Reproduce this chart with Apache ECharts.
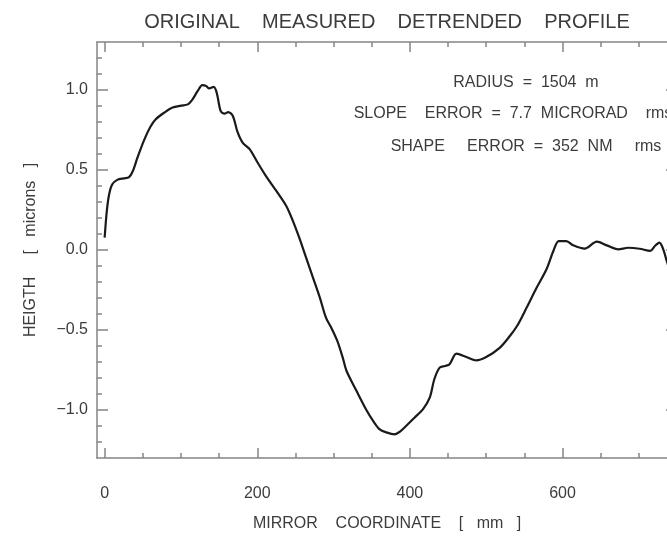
<!DOCTYPE html>
<html>
<head>
<meta charset="utf-8">
<script src="https://cdn.jsdelivr.net/npm/echarts@6/dist/echarts.min.js"></script>
<style>
html,body{margin:0;padding:0;background:#fff;}
#chart{width:667px;height:539px;}
</style>
</head>
<body>
<div id="chart"></div>
<script>
// ---- data ----
const xCoord = [0,3,6,10,17,25,32,37,43,52,60,67,78,89,100,109,115,122,128,133,137,143,147,152,157,162,168,174,181,190,200,211,225,238,246,255,264,273,282,290,297,305,312,317,330,343,352,360,369,380,387,395,406,417,426,432,439,446,452,461,474,487,500,518,531,541,553,566,579,588,595,605,614,629,645,658,673,686,701,715,721,727,732,736,740];
const height = [0.077,0.25,0.35,0.41,0.44,0.448,0.456,0.494,0.577,0.69,0.77,0.817,0.858,0.89,0.902,0.91,0.94,0.994,1.03,1.025,1.01,1.019,0.98,0.869,0.852,0.862,0.838,0.74,0.67,0.63,0.55,0.465,0.369,0.275,0.19,0.077,-0.048,-0.173,-0.298,-0.423,-0.486,-0.57,-0.673,-0.756,-0.88,-1.0,-1.07,-1.12,-1.14,-1.152,-1.135,-1.1,-1.048,-0.996,-0.923,-0.808,-0.735,-0.725,-0.714,-0.648,-0.669,-0.69,-0.669,-0.61,-0.5375,-0.47,-0.36,-0.236,-0.12,-0.006,0.056,0.056,0.029,0.008,0.052,0.029,0.004,0.014,0.008,-0.006,0.025,0.046,0.004,-0.06,-0.12];
const xMajorTicks = [0,200,400,600];
const xMinorTicks = [50,100,150,250,300,350,450,500,550,650,700];
const yMajorTicks = [-1.0,-0.5,0.0,0.5,1.0];
const yMinorTicks = [-1.2,-1.1,-0.9,-0.8,-0.7,-0.6,-0.4,-0.3,-0.2,-0.1,0.1,0.2,0.3,0.4,0.6,0.7,0.8,0.9,1.1,1.2];
const titleText = 'ORIGINAL    MEASURED    DETRENDED    PROFILE';
const xName = 'MIRROR    COORDINATE    [   mm   ]';
const yName = 'HEIGTH     [   microns   ]';
const notes = ['RADIUS  =  1504  m', 'SLOPE    ERROR  =  7.7  MICRORAD    rms', 'SHAPE     ERROR  =  352  NM     rms'];

// ---- chart ----
const FONT = 'Liberation Sans';
const TXT = '#3c3c3c';
const LINE = '#858585';
const chart = echarts.init(document.getElementById('chart'), null, {renderer: 'canvas'});
const fmt = v => (v < 0 ? '\u2212' : '') + Math.abs(v).toFixed(1);

function xAxisDef(pos, ticks, len, labels, showLine) {
  return {
    type: 'value', position: pos, min: -10, max: 750,
    axisLine: {show: showLine, onZero: false, lineStyle: {color: LINE, width: 1.5}},
    axisTick: {show: true, inside: true, length: len, customValues: ticks, lineStyle: {color: LINE, width: 1.5}},
    axisLabel: labels ? {show: true, customValues: ticks, margin: 28, fontFamily: FONT, fontSize: 16, color: TXT} : {show: false},
    splitLine: {show: false}
  };
}
function yAxisDef(pos, ticks, len, labels, showLine) {
  return {
    type: 'value', position: pos, min: -1.3, max: 1.3,
    axisLine: {show: showLine, onZero: false, lineStyle: {color: LINE, width: 1.5}},
    axisTick: {show: true, inside: true, length: len, customValues: ticks, lineStyle: {color: LINE, width: 1.5}},
    axisLabel: labels ? {show: true, customValues: ticks, margin: 9, fontFamily: FONT, fontSize: 16, color: TXT, formatter: fmt} : {show: false},
    splitLine: {show: false}
  };
}

const xAxes = [
  xAxisDef('bottom', xMajorTicks, 10, true, true),
  xAxisDef('bottom', xMinorTicks, 5, false, false),
  xAxisDef('top', xMajorTicks, 10, false, true),
  xAxisDef('top', xMinorTicks, 5, false, false)
];
Object.assign(xAxes[0], {name: xName, nameLocation: 'middle', nameGap: 58, nameTextStyle: {fontFamily: FONT, fontSize: 16, color: TXT}});
const yAxes = [
  yAxisDef('left', yMajorTicks, 11, true, true),
  yAxisDef('left', yMinorTicks, 5, false, false),
  yAxisDef('right', yMajorTicks, 11, false, true),
  yAxisDef('right', yMinorTicks, 5, false, false)
];
Object.assign(yAxes[0], {name: yName, nameLocation: 'middle', nameGap: 58, nameTextStyle: {fontFamily: FONT, fontSize: 16, color: TXT}});

const noteX = [526, 513, 526];
const noteY = [83, 114, 147];
chart.setOption({
  animation: false,
  backgroundColor: '#ffffff',
  title: {
    text: titleText, left: 387, top: 12, textAlign: 'center', padding: 0,
    textStyle: {fontFamily: FONT, fontSize: 20, fontWeight: 'normal', color: TXT}
  },
  grid: {left: 97, right: -10, top: 42, bottom: 81, containLabel: false, outerBoundsMode: 'none'},
  xAxis: xAxes,
  yAxis: yAxes,
  graphic: notes.map((t, i) => ({
    type: 'text', x: noteX[i], y: noteY[i],
    style: {text: t, textAlign: 'center', textVerticalAlign: 'middle', fontFamily: FONT, fontSize: 16, fill: TXT}
  })),
  series: [{
    type: 'line', xAxisIndex: 0, yAxisIndex: 0,
    data: xCoord.map((x, i) => [x, height[i]]),
    showSymbol: false, smooth: 0.3,
    lineStyle: {color: '#1a1a1a', width: 2.2}
  }]
});
</script>
</body>
</html>
